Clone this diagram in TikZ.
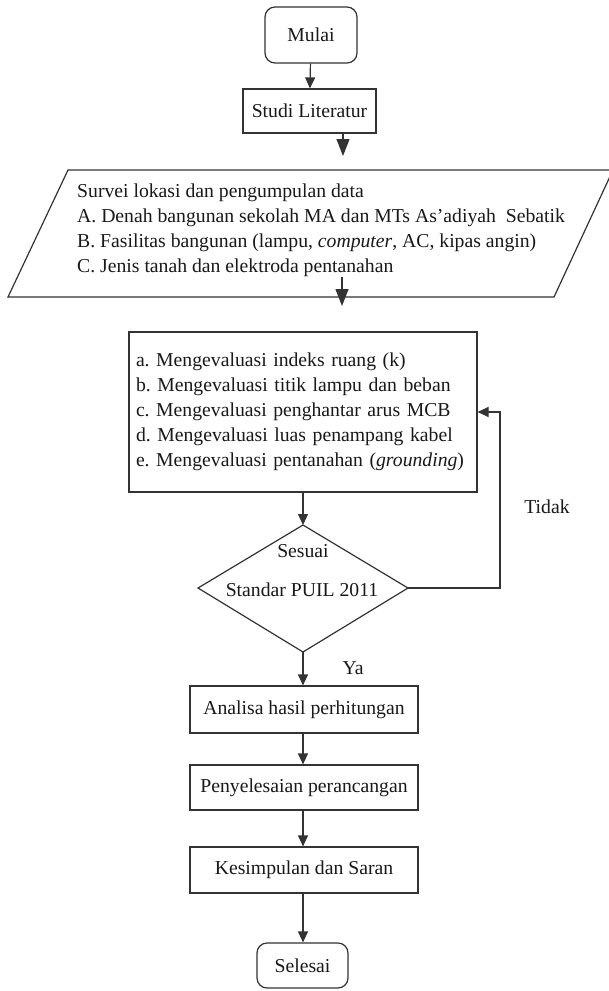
\documentclass[tikz,border=0pt]{standalone}
\usepackage{fontspec}
\setmainfont{Liberation Serif}
\usetikzlibrary{arrows.meta,calc}
\begin{document}
\frenchspacing
\begin{tikzpicture}[x=1pt,y=-1pt,
  every node/.style={font=\fontsize{19.7}{25}\selectfont\frenchspacing, text=black!90},
  line/.style={draw=black!80, line width=1.2pt},
  box/.style={line, rectangle, inner sep=0pt, align=center},
  rbox/.style={box, rounded corners=10pt},
  arr/.style={line, -{Triangle[length=11pt,width=10pt]}},
  bigarr/.style={line, -{Triangle[length=17pt,width=13pt]}},
  lbl/.style={inner sep=0pt}]
\useasboundingbox (0,0) rectangle (609,991);
\fill[white] (0,0) rectangle (609,991);
% start
\node[rbox, minimum width=92pt, minimum height=56pt] (mulai) at (311,35) {Mulai};
\node[box, minimum width=133pt, minimum height=44pt] (studi) at (309.5,111) {Studi Literatur};
% parallelogram
\coordinate (ptl) at (68,170);
\coordinate (ptr) at (613,170);
\coordinate (pbr) at (554,297);
\coordinate (pbl) at (8,297);
\draw[line] (ptl) -- (ptr) -- (pbr) -- (pbl) -- cycle;
\node[lbl, anchor=west, align=left] (survei) at (77,230) {Survei lokasi dan pengumpulan data\\
A. Denah bangunan sekolah MA dan MTs As’adiyah\ \ Sebatik\\
B. Fasilitas bangunan (lampu, \textit{computer}, AC, kipas angin)\\
C. Jenis tanah dan elektroda pentanahan};
% evaluation box
\node[box, minimum width=348pt, minimum height=160pt, text width=334pt, inner xsep=7pt, align=left] (eval) at (303,412) {a. Mengevaluasi indeks ruang (k)\\
b. Mengevaluasi titik lampu dan beban\\
c. Mengevaluasi penghantar arus MCB\\
d. Mengevaluasi luas penampang kabel\\
e. Mengevaluasi pentanahan (\textit{grounding})};
% decision
\coordinate (dt) at (303,525);
\coordinate (dr) at (408,588);
\coordinate (db) at (303,652);
\coordinate (dl) at (198,588);
\draw[line] (dt) -- (dr) -- (db) -- (dl) -- cycle;
\node[lbl] (sesuai) at (303,551) {Sesuai};
\node[lbl] (standar) at (302,590) {Standar PUIL 2011};
\node[lbl] (ya) at (353,668) {Ya};
\node[lbl] (tidak) at (547,507) {Tidak};
% lower boxes
\node[box, minimum width=228pt, minimum height=47pt] (analisa) at (304,709.5) {Analisa hasil perhitungan};
\node[box, minimum width=228pt, minimum height=45pt] (penye) at (304,787.5) {Penyelesaian perancangan};
\node[box, minimum width=228pt, minimum height=46pt] (kesim) at (304,870) {Kesimpulan dan Saran};
\node[rbox, minimum width=91pt, minimum height=45pt] (selesai) at (302.5,965.5) {Selesai};
% connectors
\coordinate (s1) at (343,133);
\coordinate (s2) at (343,156);
\coordinate (p1) at (342,277);
\coordinate (p2) at (342,306);
\coordinate (fb) at (500,588);
\draw[arr] (mulai) -- (studi);
\draw[bigarr] (s1) -- (s2);
\draw[bigarr] (p1) -- (p2);
\draw[arr] (eval.south -| dt) -- (dt);
\draw[arr] (db) -- (analisa.north -| db);
\draw[arr] (analisa.south -| db) -- (penye.north -| db);
\draw[arr] (penye.south -| db) -- (kesim.north -| db);
\draw[arr] (kesim.south -| db) -- (selesai.north -| db);
\draw[arr] (dr) -- (fb) |- (eval.east);
\end{tikzpicture}
\end{document}
